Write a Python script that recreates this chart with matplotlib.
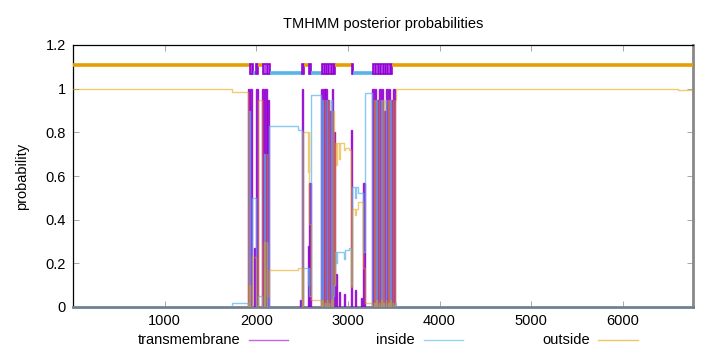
import numpy as np
import matplotlib
matplotlib.use("Agg")
import matplotlib.pyplot as plt
from matplotlib.lines import Line2D

plt.rcParams['font.family'] = ['Liberation Sans', 'DejaVu Sans']

SEQ_LEN = 6766

# ---- lower plot: inside / outside posterior (segment start, value until next start)
seg_start = [0, 1735, 1905, 1925, 1935, 1955, 2000, 2020, 2060, 2085, 2095, 2115, 2120, 2140,
             2455, 2495, 2515, 2560, 2572, 2580, 2595,
             2705, 2722, 2728, 2745, 2752, 2768, 2775, 2790, 2798, 2812, 2822, 2836, 2845,
             2858, 2868, 2878, 2900, 2910, 2960, 2970, 3010, 3032, 3050, 3080, 3092, 3110,
             3168, 3182,
             3268, 3286, 3292, 3310, 3318, 3336, 3344, 3362, 3368, 3386, 3394, 3412, 3420,
             3438, 3444, 3462, 3470, 3488, 3496, 3514,
             3525, 6600]
seg_inside = [0.0, 0.02, 0.0, 0.9, 0.0, 0.5, 0.0, 0.05, 0.0, 0.7, 0.0, 0.3, 0.0, 0.83,
              0.81, 0.0, 0.18, 0.1, 0.18, 0.05, 0.97,
              0.0, 0.95, 0.0, 0.02, 0.0, 0.95, 0.0, 0.02, 0.0, 0.95, 0.0, 0.05, 0.1,
              0.25, 0.2, 0.25, 0.25, 0.25, 0.22, 0.26, 0.27, 0.1, 0.55, 0.5, 0.55, 0.52,
              0.25, 0.98,
              0.0, 0.02, 0.0, 0.95, 0.0, 0.02, 0.0, 0.95, 0.0, 0.02, 0.0, 0.95, 0.0,
              0.02, 0.0, 0.95, 0.0, 0.02, 0.0, 0.02,
              0.0, 0.0]
seg_outside = [1.0, 0.985, 0.0, 0.1, 0.0, 0.23, 0.0, 0.95, 0.0, 0.3, 0.0, 0.7, 0.05, 0.17,
               0.18, 0.0, 0.80, 0.62, 0.80, 0.38, 0.03,
               0.0, 0.03, 0.0, 0.95, 0.0, 0.03, 0.0, 0.95, 0.0, 0.03, 0.0, 0.9, 0.1,
               0.75, 0.65, 0.75, 0.68, 0.75, 0.72, 0.73, 0.72, 0.09, 0.45, 0.42, 0.45, 0.48,
               0.18, 0.02,
               0.0, 0.95, 0.0, 0.03, 0.0, 0.95, 0.0, 0.03, 0.0, 0.95, 0.0, 0.03, 0.0,
               0.95, 0.0, 0.03, 0.0, 0.95, 0.0, 0.95,
               1.0, 0.995]

# ---- lower plot: transmembrane helices (start, end, peak probability)
tm_start = [1905, 1935, 1975, 2000, 2060, 2095, 2120, 2480, 2495, 2560, 2580,
            2705, 2728, 2752, 2775, 2798, 2822, 2845, 2868, 2900, 2960, 3032, 3080, 3140, 3168,
            3268, 3292, 3318, 3344, 3368, 3394, 3420, 3444, 3470, 3496]
tm_end = [1925, 1955, 1990, 2020, 2085, 2115, 2140, 2490, 2515, 2572, 2595,
          2722, 2745, 2768, 2790, 2812, 2836, 2858, 2878, 2910, 2970, 3050, 3092, 3150, 3182,
          3286, 3310, 3336, 3362, 3386, 3412, 3438, 3462, 3488, 3514]
tm_height = [1.0, 1.0, 0.27, 1.0, 1.0, 1.0, 0.95, 0.03, 1.0, 0.28, 0.57,
             1.0, 1.0, 1.0, 0.95, 0.9, 1.0, 0.8, 0.15, 0.07, 0.06, 0.81, 0.08, 0.04, 0.57,
             1.0, 1.0, 0.95, 1.0, 1.0, 0.9, 1.0, 1.0, 0.95, 1.0]

# ---- top annotation bar: predicted topology segments
topo_start = [0, 1932, 1965, 1998, 2020, 2074, 2151, 2500, 2516, 2576, 2598, 2718, 2860, 3045, 3056, 3275, 3482]
topo_end = [1932, 1965, 1998, 2020, 2074, 2151, 2500, 2516, 2576, 2598, 2718, 2860, 3045, 3056, 3275, 3482, SEQ_LEN]
topo_state = ['o', 'M', 'i', 'M', 'o', 'M', 'i', 'M', 'o', 'M', 'i', 'M', 'o', 'M', 'i', 'M', 'o']
tm_box_dividers = [1948, 2112, 2742, 2765, 2788, 2812, 2836, 3300, 3326, 3352, 3378, 3404, 3430, 3456]

legend_labels = ['transmembrane', 'inside', 'outside']

PURPLE = '#9400d3'
BLUE = '#56b4e9'
ORANGE = '#e69f00'

fig = plt.figure(figsize=(7.2, 3.52), dpi=100)
ax = fig.add_axes([73 / 720, 1 - 307 / 352, 620 / 720, 262 / 352])

# transmembrane as filled impulses
tm_width = [e - s for s, e in zip(tm_start, tm_end)]
ax.bar(tm_start, tm_height, width=tm_width, align='edge', facecolor=PURPLE,
       edgecolor=PURPLE, lw=1.0, alpha=0.85, zorder=3)

ix = list(seg_start) + [SEQ_LEN]
iy = list(seg_inside) + [seg_inside[-1]]
oy = list(seg_outside) + [seg_outside[-1]]
ax.step(ix, iy, where='post', color=BLUE, lw=1.0, alpha=0.7, zorder=4)
ax.step(ix, oy, where='post', color=ORANGE, lw=1.0, alpha=0.55, zorder=4)

# top bar
for s, e, st in zip(topo_start, topo_end, topo_state):
    if st == 'o':
        ax.hlines(1.11, s, e, color=ORANGE, lw=2.6, zorder=5)
    elif st == 'i':
        ax.hlines(1.07, s, e, color=BLUE, lw=2.6, zorder=5)
    else:
        ax.bar(s, 0.046, width=e - s, bottom=1.067, align='edge',
               facecolor='#b44ae6', edgecolor=PURPLE, lw=1.2, zorder=5)
ax.vlines(tm_box_dividers, 1.067, 1.113, color=PURPLE, lw=1.0, zorder=6)

ax.set_xlim(0, SEQ_LEN)
ax.set_ylim(0, 1.2)
ax.set_xticks([1000, 2000, 3000, 4000, 5000, 6000])
ax.set_yticks([0, 0.2, 0.4, 0.6, 0.8, 1.0, 1.2])
ax.set_yticklabels(['0', '0.2', '0.4', '0.6', '0.8', '1', '1.2'])
ax.tick_params(direction='in', top=True, right=True, length=4, width=0.6,
               color='#999999', labelsize=10.5, pad=5)
for side in ['left', 'top']:
    ax.spines[side].set_color('black')
    ax.spines[side].set_linewidth(0.9)
ax.spines['bottom'].set_color('#708090')
ax.spines['bottom'].set_linewidth(2.0)
ax.spines['right'].set_color('#888888')
ax.spines['right'].set_linewidth(2.0)

ax.set_ylabel('probability', fontsize=10.5, labelpad=12)
ax.set_title('TMHMM posterior probabilities', fontsize=10.5, pad=12)

# gnuplot-style key: text then sample, in one row below the axis
key_text_right = [240 / 720, 415 / 720, 590 / 720]
key_sample = [(249 / 720, 288 / 720), (424 / 720, 463 / 720), (598 / 720, 638 / 720)]
key_colors = [PURPLE, BLUE, ORANGE]
key_y = 1 - 340 / 352
for lab, xr, (x0, x1), c in zip(legend_labels, key_text_right, key_sample, key_colors):
    fig.text(xr, key_y, lab, ha='right', va='center', fontsize=10.5)
    fig.add_artist(Line2D([x0, x1], [key_y, key_y], transform=fig.transFigure,
                          color=c, lw=1.0, alpha=0.6))

fig.savefig('out.png', dpi=100)
